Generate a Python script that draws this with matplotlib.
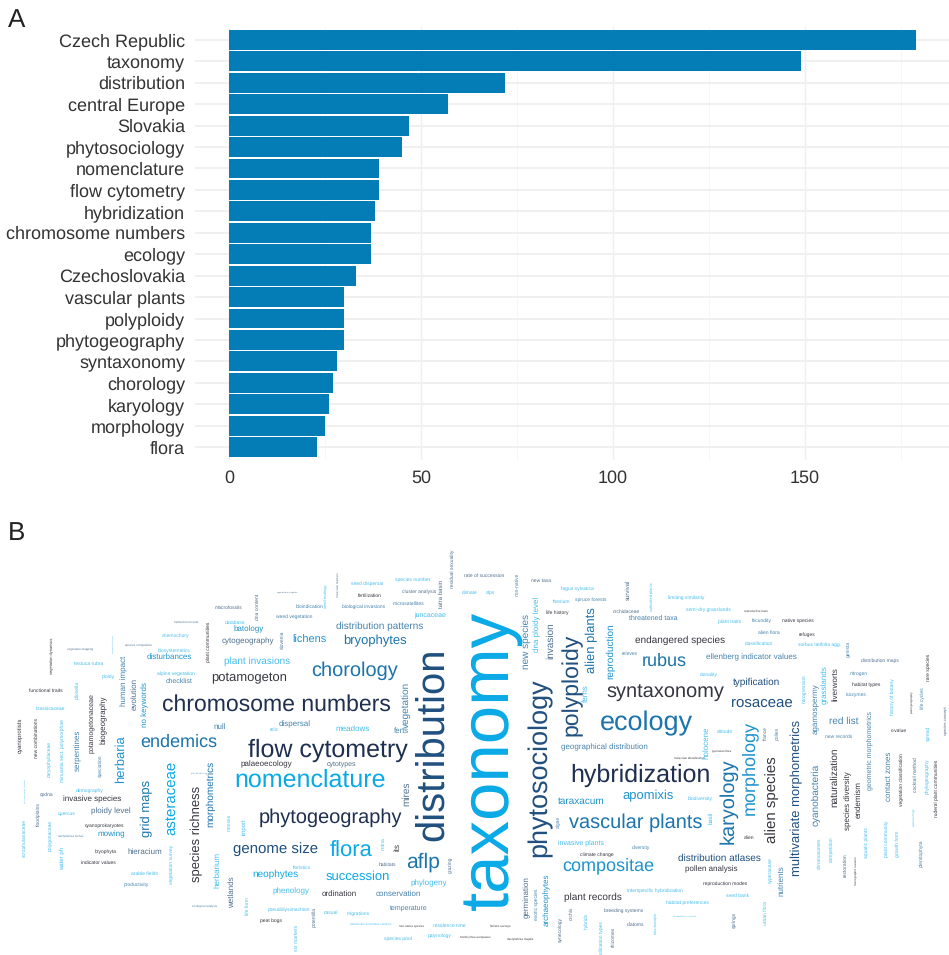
import matplotlib
matplotlib.use("Agg")
import matplotlib.pyplot as plt
from matplotlib.font_manager import FontProperties
from matplotlib.textpath import TextPath

plt.rcParams['font.family'] = ['Liberation Sans', 'DejaVu Sans']
plt.rcParams['text.hinting'] = 'no_hinting'
plt.rcParams['text.hinting_factor'] = 1

# ---------- panel A data ----------
keywords = ["Czech Republic", "taxonomy", "distribution", "central Europe", "Slovakia",
            "phytosociology", "nomenclature", "flow cytometry", "hybridization",
            "chromosome numbers", "ecology", "Czechoslovakia", "vascular plants",
            "polyploidy", "phytogeography", "syntaxonomy", "chorology", "karyology",
            "morphology", "flora"]
counts = [179, 149, 72, 57, 47, 45, 39, 39, 38, 37, 37, 33, 30, 30, 30, 28, 27, 26, 25, 23]
x_ticks = [0, 50, 100, 150]

# ---------- panel B data: horizontal words ----------
h_words = ["macrofossils", "bioindication", "weed vegetation", "vegetative propagation", "herbarium records",
           "database", "batology", "cytogeography", "lichens", "anemochory",
           "vegetation mapping", "species composition", "biosystematics", "disturbances", "plant invasions",
           "festuca rubra", "ploidy", "alpine vegetation", "checklist", "potamogeton",
           "functional traits", "brassicaceae", "chromosome numbers", "null", "relic",
           "dispersal", "flow cytometry", "cpdna", "quercus", "dactylorhiza fuchsii",
           "demography", "invasive species", "ploidy level", "cyanoprokaryotes", "mowing",
           "bryophyta", "hieracium", "indicator values", "arable fields", "productivity",
           "endemics", "ecological analysis", "plant distribution", "palaeoecology", "nomenclature",
           "phytogeography", "genome size", "neophytes", "floristics", "phenology",
           "pseudolysimachion", "peat bogs", "rate of succession", "new taxa", "seed dispersal",
           "species number", "fertilization", "cluster analysis", "climate", "alps",
           "fagus sylvatica", "thesium", "spruce forests", "biological invasions", "microsatellites",
           "juncaceae", "distribution patterns", "bryophytes", "chorology", "life history",
           "orchidaceae", "releves", "syntaxonomy", "ecology", "fens",
           "meadows", "geographical distribution", "cytotypes", "taraxacum", "apomixis",
           "vascular plants", "hybridization", "invasive plants", "climate change", "compositae",
           "diversity", "flora", "aflp", "habitats", "succession",
           "phylogeny", "ordination", "conservation", "temperature", "casual",
           "migrations", "ranunculus auricomus complex", "non-native species", "residence time", "floristic surveys",
           "palynology", "hordelymus europaeus", "dactylorhiza majalis", "species pool", "plant records",
           "breeding systems", "diatoms", "interspecific hybridization", "distribution atlases", "pollen analysis",
           "reproduction modes", "seed bank", "habitat preferences", "chamaedaphne calyculata", "biodiversity",
           "pyrenean flora", "molecular identification", "alien", "limiting similarity", "semi-dry grasslands",
           "reproductive traits", "threatened taxa", "plant traits", "fecundity", "native species",
           "alien flora", "refuges", "classification", "sorbus latifolia agg.", "endangered species",
           "distribution maps", "rubus", "ellenberg indicator values", "clonality", "typification",
           "rosaceae", "nitrogen", "habitat types", "isozymes", "c-value",
           "red list", "new records", "altitude"]
h_x0 = [215, 296, 276, 275, 175, 225, 235, 223, 293, 162, 68, 127, 158, 148, 224, 74, 102, 157, 165, 213,
        29, 36, 164, 214, 270, 280, 248, 40, 58, 60, 76, 65, 92, 85, 99, 95, 128, 81, 131, 124, 141, 192, 190,
        242, 235, 260, 234, 253, 293, 273, 267, 260, 464, 531, 351, 395, 358, 402, 462, 486, 561, 553, 575,
        343, 393, 413, 336, 345, 312, 546, 612, 622, 607, 600, 394, 337, 564, 326, 558, 624, 569, 571, 557,
        580, 563, 632, 330, 407, 378, 327, 412, 323, 377, 389, 324, 347, 351, 401, 433, 489, 428, 460, 509,
        384, 564, 604, 627, 627, 678, 687, 703, 726, 666, 671, 688, 712, 676, 744, 668, 686, 744, 627, 718,
        752, 782, 758, 799, 744, 799, 635, 861, 643, 709, 700, 733, 731, 850, 852, 846, 891, 829, 825, 717]
h_x1 = [242, 324, 312, 300, 197, 246, 263, 272, 325, 189, 93, 151, 191, 190, 290, 103, 115, 195, 193, 285,
        63, 65, 388, 226, 279, 310, 408, 53, 76, 81, 104, 119, 129, 125, 124, 117, 161, 116, 158, 149, 216, 217, 206,
        290, 386, 401, 318, 298, 311, 308, 310, 282, 504, 551, 384, 431, 382, 437, 478, 494, 594, 571, 606,
        385, 424, 447, 423, 405, 397, 568, 640, 637, 724, 693, 408, 369, 645, 357, 604, 673, 702, 710, 605,
        613, 653, 650, 373, 439, 396, 389, 446, 356, 420, 429, 338, 370, 391, 422, 465, 511, 452, 491, 531,
        412, 622, 644, 645, 683, 761, 736, 747, 749, 709, 698, 713, 732, 702, 754, 704, 731, 767, 679, 742,
        772, 814, 780, 816, 773, 841, 726, 898, 686, 794, 718, 780, 792, 868, 881, 867, 907, 859, 853, 733]
h_y = [608, 607, 617, 592, 622, 623, 629, 641, 640, 636, 649, 645, 651, 657, 661, 664, 677, 674, 681, 678,
       691, 709, 705, 727, 730, 724, 750, 795, 814, 836, 791, 799, 811, 826, 834, 852, 852, 863, 874, 885,
       742, 906, 773, 764, 780, 818, 849, 874, 868, 891, 910, 921, 576, 581, 584, 580, 596, 592, 593, 593,
       589, 602, 600, 607, 604, 615, 626, 641, 671, 613, 612, 654, 693, 723, 731, 729, 747, 764, 801, 796,
       823, 775, 843, 855, 866, 848, 851, 862, 865, 877, 883, 894, 894, 908, 913, 914, 924, 926, 926, 926,
       936, 937, 939, 939, 897, 911, 925, 891, 858, 869, 884, 896, 903, 916, 799, 751, 758, 838, 598, 610,
       611, 618, 622, 621, 621, 633, 635, 644, 645, 640, 661, 661, 657, 675, 682, 703, 674, 685, 695, 731,
       721, 737, 732]
h_color = ["slate", "steel", "steel", "slate", "slate", "light", "mid", "slate", "mid", "light",
           "slate", "slate", "light", "mid", "light", "light", "light", "light", "steel", "dark",
           "dark", "light", "navy", "steel", "light", "steel", "navy", "slate", "light", "steel",
           "light", "dark", "slate", "dark", "mid", "dark", "slate", "dark", "light", "steel",
           "blue", "steel", "steel", "dark", "bright", "navy", "deep", "bright", "light", "light",
           "light", "dark", "slate", "slate", "light", "light", "dark", "slate", "light", "light",
           "light", "light", "steel", "steel", "steel", "light", "steel", "blue", "blue", "dark",
           "slate", "steel", "dark", "blue", "steel", "light", "steel", "slate", "mid", "mid",
           "blue", "navy", "light", "dark", "mid", "steel", "bright", "blue", "slate", "bright",
           "light", "dark", "steel", "steel", "light", "light", "light", "dark", "light", "dark",
           "light", "dark", "dark", "light", "dark", "slate", "slate", "light", "deep", "dark",
           "dark", "light", "light", "light", "light", "dark", "dark", "dark", "light", "light",
           "dark", "steel", "light", "steel", "dark", "steel", "dark", "light", "light", "dark",
           "slate", "blue", "steel", "light", "deep", "deep", "steel", "dark", "steel", "dark",
           "steel", "steel", "light"]

# ---------- panel B data: vertical words ----------
v_words = ["dna content", "plant communities", "slovenia", "human impact", "evolution",
           "no keywords", "pilosella", "biogeography", "potamogetonaceae", "cyanoprotists",
           "new combinations", "minuartia sect. polymorphae", "caryophyllaceae", "serpentines", "speciation",
           "herbaria", "nomenclatural types", "vegetation dynamics", "hieracium subgen. pilosella", "scrophulariaceae",
           "floodplains", "polygonaceae", "water ph", "grid maps", "asteraceae",
           "species richness", "morphometrics", "vegetation survey", "herbarium", "mosses",
           "import", "wetlands", "life form", "potentilla", "ssr markers",
           "residual sexuality", "non-native", "survival", "molecular markers", "seed ecology",
           "tatra basin", "dna ploidy level", "new species", "invasion", "alien plants",
           "polyploidy", "reproduction", "ferns", "distribution", "taxonomy",
           "phytosociology", "vegetation", "mires", "algae", "nrdna",
           "its", "grazing", "germination", "exotic species", "archaeophytes",
           "synecology", "orchis", "hybrids", "pollination types", "rhizomes",
           "macroscopic", "springs", "urban flora", "cyperaceae", "nutrients",
           "alien species", "multivariate morphometrics", "karyology", "morphology", "cyanobacteria",
           "naturalization", "species diversity", "endemism", "geometric morphometrics", "contact zones",
           "vegetation classification", "cocktail method", "phylogeography", "ruderal plant communities", "plant ecology",
           "pteridophyta", "growth form", "plant community", "aquatic plants", "restoration",
           "monographic revision", "competition", "chromosomes", "basil", "holocene",
           "cultivated plants", "genista", "rare species", "introgression", "agamospermy",
           "grasslands", "liverworts", "history of botany", "life cycles", "plant geography",
           "species concept", "spread", "france", "pollen"]
v_x = [258, 209, 283, 124, 135, 145, 77, 104, 91, 20, 37, 63, 49, 78, 101, 121, 113, 52, 25, 25, 39, 50, 62,
       147, 171, 197, 211, 172, 217, 229, 244, 232, 248, 314, 297, 453, 517, 628, 338, 326, 441, 537, 526, 551,
       592, 572, 611, 586, 434, 490, 540, 406, 407, 558, 383, 397, 450, 527, 537, 547, 561, 571, 586, 602, 613,
       656, 735, 766, 770, 781, 772, 797, 728, 749, 816, 835, 848, 859, 870, 889, 902, 916, 927, 937, 914, 921,
       898, 887, 867, 845, 856, 831, 819, 711, 706, 652, 848, 929, 804, 815, 825, 835, 893, 923, 912, 946, 929,
       766, 777]
v_y0 = [593, 622, 630, 657, 679, 684, 681, 697, 692, 717, 718, 719, 740, 730, 755, 736, 634, 637, 780, 819, 802,
        819, 848, 781, 761, 788, 760, 844, 853, 814, 819, 877, 898, 906, 925, 550, 573, 580, 574, 584, 580, 598,
        614, 623, 608, 635, 623, 684, 650, 610, 678, 682, 782, 816, 837, 843, 857, 878, 889, 875, 917, 907, 913,
        923, 926, 913, 912, 901, 857, 866, 757, 723, 758, 722, 763, 747, 773, 782, 709, 753, 753, 757, 758, 759,
        808, 839, 831, 820, 828, 853, 857, 836, 838, 812, 727, 583, 640, 653, 674, 685, 667, 668, 678, 688, 691,
        708, 725, 726, 727]
v_y1 = [620, 661, 649, 705, 709, 726, 699, 743, 755, 753, 757, 783, 778, 770, 777, 782, 654, 674, 802, 857, 827,
        851, 869, 836, 835, 880, 827, 884, 887, 831, 834, 907, 915, 927, 950, 588, 596, 600, 595, 608, 608, 650,
        669, 659, 672, 734, 680, 702, 839, 910, 857, 727, 806, 828, 850, 850, 873, 917, 920, 925, 941, 920, 929,
        955, 947, 933, 928, 925, 883, 895, 843, 873, 844, 813, 826, 807, 828, 818, 793, 799, 806, 792, 794, 817,
        827, 867, 857, 857, 858, 877, 885, 862, 869, 823, 758, 611, 657, 681, 703, 733, 703, 700, 715, 709, 714,
        733, 741, 740, 740]
v_color = ["slate", "dark", "slate", "steel", "slate", "mid", "light", "dark", "dark", "dark",
           "dark", "light", "light", "steel", "steel", "mid", "light", "dark", "light", "light",
           "slate", "light", "light", "blue", "bright", "dark", "blue", "light", "light", "light",
           "light", "slate", "light", "slate", "light", "slate", "steel", "slate", "slate", "light",
           "slate", "light", "steel", "slate", "blue", "deep", "mid", "light", "deep", "bright",
           "deep", "steel", "slate", "steel", "light", "dark", "slate", "slate", "steel", "mid",
           "slate", "slate", "light", "light", "slate", "light", "slate", "light", "light", "steel",
           "dark", "deep", "blue", "mid", "steel", "dark", "dark", "dark", "steel", "steel",
           "dark", "slate", "light", "dark", "light", "steel", "light", "light", "light", "slate",
           "dark", "light", "light", "light", "light", "light", "steel", "dark", "light", "steel",
           "light", "dark", "light", "steel", "dark", "slate", "light", "slate", "steel"]

palette = {"bright": "#0AA9E6", "light": "#45BDEE", "mid": "#1E93CC", "blue": "#1B74AC",
           "steel": "#4583AE", "slate": "#4F6F8F", "deep": "#1F4F7E", "navy": "#1E2F50",
           "dark": "#35363F"}

W, H = 949, 955
fig = plt.figure(figsize=(W / 100, H / 100), dpi=100, facecolor="white")

# ---------- panel A ----------
ax = fig.add_axes([195 / W, 1 - 460 / H, (W - 195) / W, (460 - 27) / H])
ypos = list(range(len(keywords)))
ax.set_axisbelow(True)
ax.barh(ypos, counts, height=0.93, color="#047DB6", linewidth=0, zorder=3)
ax.set_xlim(-8.85, 187.5)
ax.set_ylim(len(keywords) - 0.4, -0.6)
ax.set_yticks(ypos, keywords)
ax.set_xticks(x_ticks)
ax.set_xticks([25, 75, 125, 175], minor=True)
ax.grid(True, which="major", axis="y", color="#F1EEEE", linewidth=1.3)
ax.grid(True, which="major", axis="x", color="#F1EEEE", linewidth=1.0)
ax.grid(True, which="minor", axis="x", color="#F6F4F4", linewidth=0.6)
ax.tick_params(which="both", length=0)
ax.tick_params(axis="y", labelsize=13.0, labelcolor="#333333", pad=7)
ax.tick_params(axis="x", labelsize=13.0, labelcolor="#333333", pad=7)
for s in ax.spines.values():
    s.set_visible(False)

# ---------- panel B ----------
cloud = fig.add_axes([0, 0, 1, 1], facecolor="none")
cloud.set_xlim(0, W)
cloud.set_ylim(H, 0)
cloud.axis("off")

fp = FontProperties(family="Liberation Sans")


def fit(word, span):
    """Font size in points that makes word span the given number of figure pixels."""
    return span * 0.72 / TextPath((0, 0), word, size=1, prop=fp).get_extents().width


for w, a, b, y, c in zip(h_words, h_x0, h_x1, h_y, h_color, strict=True):
    cloud.text((a + b) / 2, y, w, ha="center", va="center", color=palette[c],
               fontsize=fit(w, b - a))
for w, x, a, b, c in zip(v_words, v_x, v_y0, v_y1, v_color, strict=True):
    cloud.text(x, (a + b) / 2, w, ha="center", va="center", rotation=90, color=palette[c],
               fontsize=fit(w, b - a))

fig.text(8 / W, 1 - 27 / H, "A", fontsize=18.5, color="#222222", ha="left", va="baseline")
fig.text(8 / W, 1 - 540 / H, "B", fontsize=18.5, color="#222222", ha="left", va="baseline")

fig.savefig("out.png", dpi=100, facecolor="white")
